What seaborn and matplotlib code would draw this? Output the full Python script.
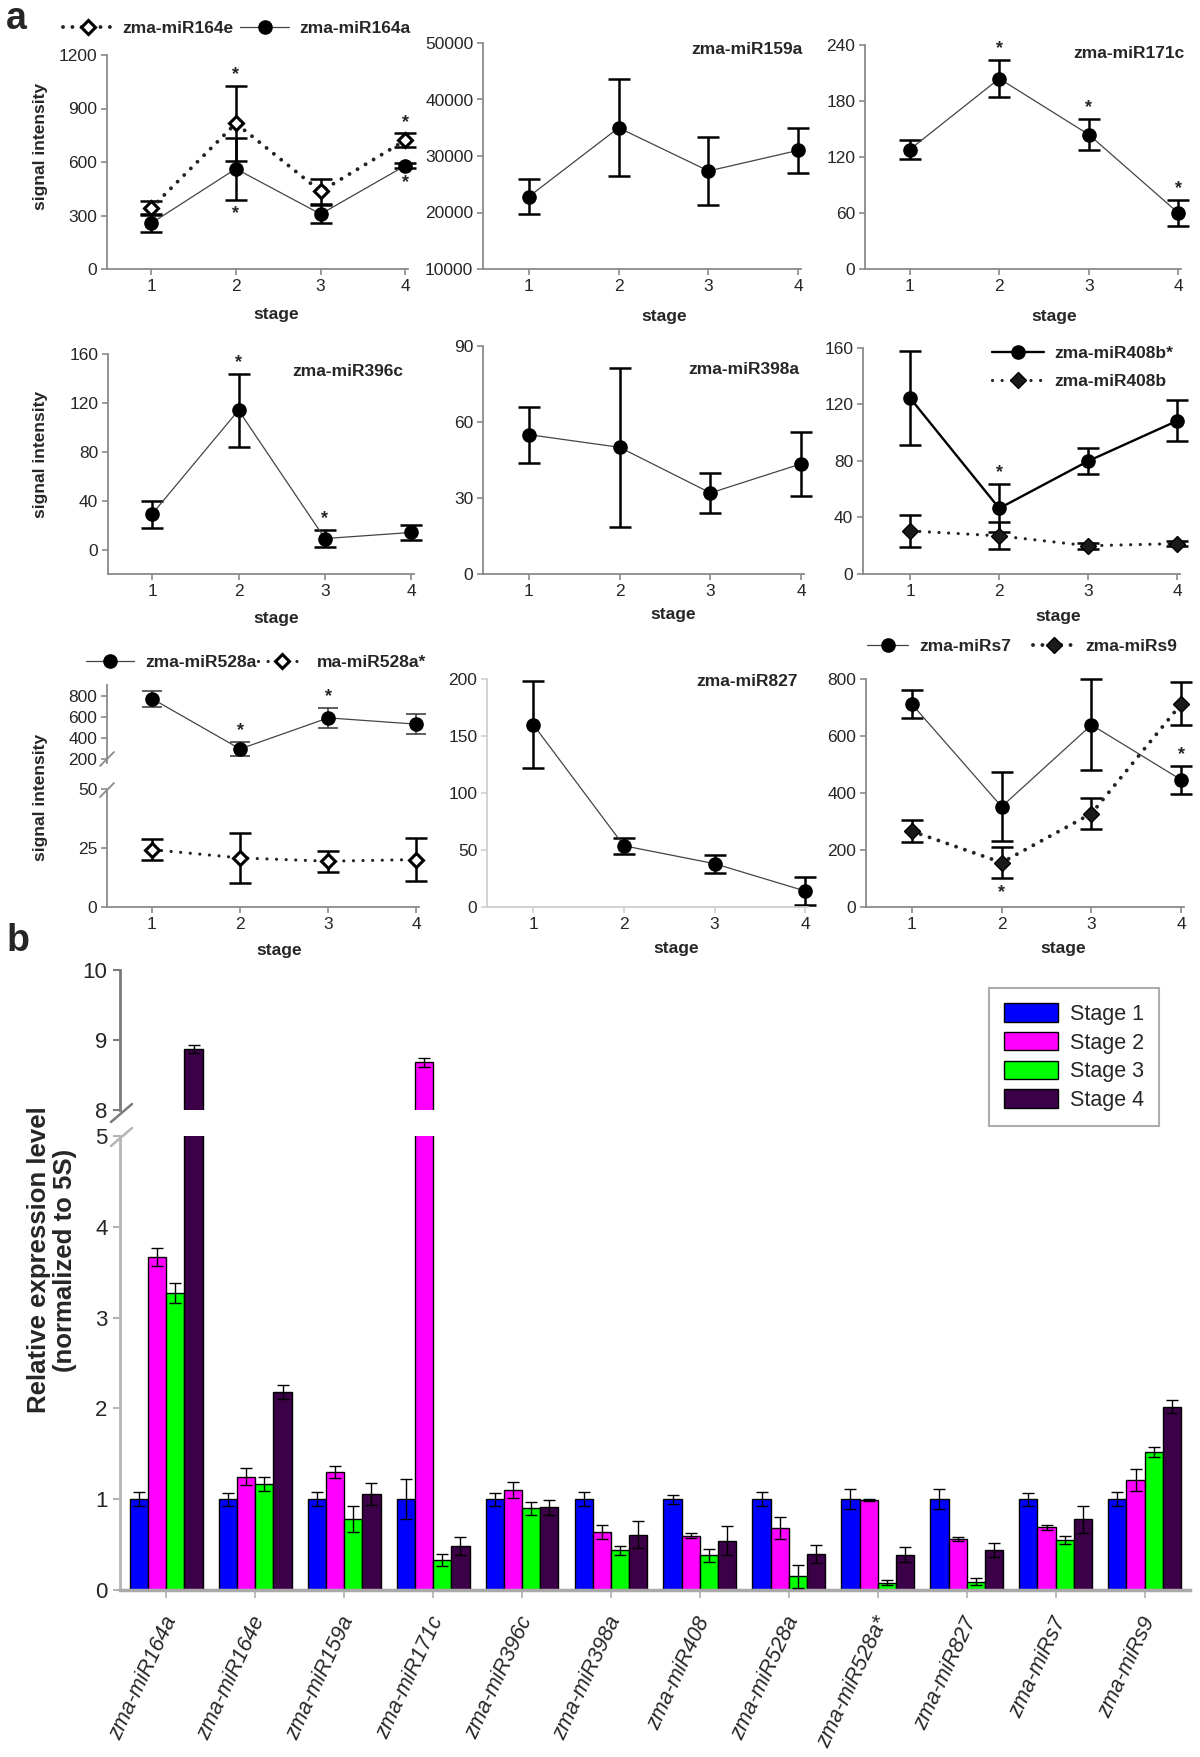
import numpy as np
import pandas as pd
import seaborn as sns
import matplotlib.pyplot as plt
import matplotlib.transforms as mtransforms
from matplotlib.lines import Line2D

W, H = 1200, 1757
stages = [1, 2, 3, 4]

# panel a: microarray signal intensity (mean and error per stage)
mir164e = [341, 817, 435, 722]
mir164e_err = [40, 210, 70, 38]
mir164a = [256, 562, 308, 580]
mir164a_err = [50, 175, 50, 15]
mir159a = [22800, 35000, 27350, 31000]
mir159a_err = [3100, 8550, 6050, 4000]
mir171c = [128, 204, 144, 60]
mir171c_err = [10, 20, 17, 14]
mir396c = [29, 114, 9, 14]
mir396c_err = [11, 30, 7, 6]
mir398a = [55, 50, 32, 43.5]
mir398a_err = [11, 31.5, 7.8, 12.7]
mir408b_star = [124.5, 46.5, 80, 108.5]
mir408b_star_err = [33.5, 17, 9, 14.5]
mir408b = [30.5, 27, 20, 21.5]
mir408b_err = [11.5, 9.5, 2, 2]
mir528a = [775, 294, 591, 531]
mir528a_err = [76, 66, 92, 98]
mir528a_star = [24.3, 20.8, 19.4, 20.1]
mir528a_star_err = [4.4, 10.7, 4.4, 9]
mir827 = [160, 53.7, 38, 14]
mir827_err = [38.5, 7, 8, 12.3]
mirs7 = [712, 352, 639, 446]
mirs7_err = [50, 122, 160, 48]
mirs9 = [266, 156, 328, 713]
mirs9_err = [38, 55, 53, 76]

# panel b: qRT-PCR relative expression
mirnas = ["zma-miR164a", "zma-miR164e", "zma-miR159a", "zma-miR171c", "zma-miR396c",
          "zma-miR398a", "zma-miR408", "zma-miR528a", "zma-miR528a*", "zma-miR827",
          "zma-miRs7", "zma-miRs9"]
stage_names = ["Stage 1", "Stage 2", "Stage 3", "Stage 4"]
stage1 = [1.00, 1.00, 1.00, 1.00, 1.00, 1.00, 1.00, 1.00, 1.00, 1.00, 1.00, 1.00]
stage1_err = [0.08, 0.07, 0.08, 0.22, 0.07, 0.08, 0.05, 0.08, 0.11, 0.11, 0.07, 0.08]
stage2 = [3.67, 1.25, 1.30, 8.68, 1.10, 0.64, 0.60, 0.68, 0.99, 0.56, 0.69, 1.21]
stage2_err = [0.10, 0.09, 0.07, 0.06, 0.09, 0.08, 0.03, 0.12, 0.01, 0.02, 0.03, 0.12]
stage3 = [3.27, 1.17, 0.78, 0.33, 0.90, 0.44, 0.38, 0.15, 0.08, 0.09, 0.55, 1.52]
stage3_err = [0.11, 0.08, 0.14, 0.07, 0.07, 0.05, 0.07, 0.13, 0.03, 0.04, 0.04, 0.06]
stage4 = [8.87, 2.18, 1.06, 0.48, 0.91, 0.61, 0.54, 0.40, 0.39, 0.44, 0.78, 2.02]
stage4_err = [0.06, 0.08, 0.12, 0.10, 0.08, 0.15, 0.16, 0.10, 0.08, 0.08, 0.15, 0.07]
bar_colors = ["#0000ff", "#ff00ff", "#00ff00", "#3c0048"]

sns.set_theme(style="white")
plt.rcParams["font.family"] = ["Liberation Sans", "DejaVu Sans"]

fig = plt.figure(figsize=(W / 100, H / 100), dpi=100)
GRAY = "#8a8a8a"

STYLES = {
    "circle": dict(marker="o", markersize=9.5, markerfacecolor="black",
                   markeredgecolor="black", markeredgewidth=1),
    "open": dict(marker="D", markersize=7.5, markerfacecolor="white",
                 markeredgecolor="black", markeredgewidth=2.2),
    "filled": dict(marker="D", markersize=8.5, markerfacecolor="#1a1a1a",
                   markeredgecolor="black", markeredgewidth=1),
}
DOTTED = dict(linestyle=(0, (0.01, 2.4)), dash_capstyle="round", linewidth=2.8, color="#222222")
DOTTED_S = dict(linestyle=(0, (0.01, 3.0)), dash_capstyle="round", linewidth=2.3, color="#222222")
SOLID = dict(linestyle="-", linewidth=0.9, color="#444444")
SOLID_B = dict(linestyle="-", linewidth=1.7, color="black")


def new_ax(x0, y0, x1, y1):
    ax = fig.add_axes([x0 / W, 1 - y1 / H, (x1 - x0) / W, (y1 - y0) / H])
    ax.patch.set_alpha(0)
    return ax


def ftext(x, y, s, **kw):
    fig.text(x / W, 1 - y / H, s, **kw)


def fline(x0, y0, x1, y1, **kw):
    fig.add_artist(Line2D([x0 / W, x1 / W], [1 - y0 / H, 1 - y1 / H],
                          transform=fig.transFigure, **kw))


def style_stage_ax(ax, xleft, ylim, yticks, color=GRAY, bottom=True):
    ax.set_xlim(xleft, 4.03)
    ax.set_ylim(ylim)
    ax.set_xticks(stages if bottom else [])
    ax.set_yticks(yticks)
    ax.set_xlabel("")
    ax.set_ylabel("")
    sns.despine(ax=ax, bottom=not bottom)
    for side in ("left", "bottom"):
        ax.spines[side].set_color(color)
        ax.spines[side].set_linewidth(1.3)
    ax.tick_params(direction="out", length=4, width=1.2, color=color,
                   labelsize=12.5, pad=3, left=True, bottom=bottom)


def series(ax, y, err, mark, line, elw=1.8, ecol="black", cap=8):
    df = pd.DataFrame({"stage": stages, "signal": y})
    sns.lineplot(data=df, x="stage", y="signal", ax=ax, zorder=3, clip_on=False,
                 **line, **STYLES[mark])
    ax.errorbar(stages, y, yerr=err, fmt="none", ecolor=ecol, elinewidth=elw,
                capsize=cap, capthick=elw, zorder=2, clip_on=False)


def stars(ax, y, err, up=(), down=(), off=2):
    for s in up:
        i = stages.index(s)
        ax.annotate("*", xy=(s, y[i] + err[i]), xytext=(0, off), textcoords="offset points",
                    ha="center", va="bottom", fontsize=13, fontweight="bold",
                    annotation_clip=False)
    for s in down:
        i = stages.index(s)
        ax.annotate("*", xy=(s, y[i] - err[i]), xytext=(0, -off - 2), textcoords="offset points",
                    ha="center", va="top", fontsize=13, fontweight="bold",
                    annotation_clip=False)


def handle(mark, line):
    return Line2D([], [], **line, **STYLES[mark])


def top_legend(handles, labels, cx, cy, colspace=0.4, hlen=2.8):
    fig.legend(handles, labels, loc="center", bbox_to_anchor=(cx / W, 1 - cy / H), ncol=2,
               frameon=False, prop=dict(weight="bold", size=12.5), handlelength=hlen,
               handletextpad=0.6, columnspacing=colspace, borderpad=0)


label_kw = dict(fontsize=12.5, fontweight="bold", ha="center", va="center")

# ---------- row 1 ----------
ax = new_ax(107, 55, 408, 269)
series(ax, mir164e, mir164e_err, "open", DOTTED)
series(ax, mir164a, mir164a_err, "circle", SOLID)
stars(ax, mir164e, mir164e_err, up=[2, 4])
stars(ax, mir164a, mir164a_err, down=[2, 4])
style_stage_ax(ax, 0.48, (0, 1200), [0, 300, 600, 900, 1200])
top_legend([handle("open", DOTTED), handle("circle", SOLID)],
           ["zma-miR164e", "zma-miR164a"], 237, 28)

ax = new_ax(483, 43, 801, 269)
series(ax, mir159a, mir159a_err, "circle", SOLID)
style_stage_ax(ax, 0.49, (10000, 50000), [10000, 20000, 30000, 40000, 50000])
ftext(802, 50, "zma-miR159a", ha="right", va="center", fontsize=12.5, fontweight="bold")

ax = new_ax(865, 45, 1181, 269)
series(ax, mir171c, mir171c_err, "circle", SOLID)
stars(ax, mir171c, mir171c_err, up=[2, 3, 4])
style_stage_ax(ax, 0.5, (0, 240), [0, 60, 120, 180, 240])
ftext(1185, 54, "zma-miR171c", ha="right", va="center", fontsize=12.5, fontweight="bold")

# ---------- row 2 ----------
ax = new_ax(108, 354, 414, 574)
series(ax, mir396c, mir396c_err, "circle", SOLID)
stars(ax, mir396c, mir396c_err, up=[2, 3])
style_stage_ax(ax, 0.49, (-20, 160), [0, 40, 80, 120, 160])
ftext(403, 371, "zma-miR396c", ha="right", va="center", fontsize=12.5, fontweight="bold")

ax = new_ax(483, 346, 804, 574)
series(ax, mir398a, mir398a_err, "circle", SOLID)
style_stage_ax(ax, 0.495, (0, 90), [0, 30, 60, 90])
ftext(799, 370, "zma-miR398a", ha="right", va="center", fontsize=12.5, fontweight="bold")

ax = new_ax(863, 348, 1180, 574)
series(ax, mir408b_star, mir408b_star_err, "circle", SOLID_B)
series(ax, mir408b, mir408b_err, "filled", DOTTED_S)
stars(ax, mir408b_star, mir408b_star_err, up=[2])
style_stage_ax(ax, 0.47, (0, 160), [0, 40, 80, 120, 160])
fig.legend([handle("circle", SOLID_B), handle("filled", DOTTED_S)],
           ["zma-miR408b*", "zma-miR408b"], loc="upper right",
           bbox_to_anchor=(1182 / W, 1 - 337 / H), frameon=False,
           prop=dict(weight="bold", size=12.5), handlelength=3.0, handletextpad=0.6,
           labelspacing=0.75, borderpad=0)

# ---------- row 3 ----------
ax_up = new_ax(107, 685, 419, 763)
series(ax_up, mir528a, mir528a_err, "circle", SOLID, elw=1.1, ecol="#333333", cap=7)
stars(ax_up, mir528a, mir528a_err, up=[2, 3])
style_stage_ax(ax_up, 0.49, (160, 905), [200, 400, 600, 800], bottom=False)
ax = new_ax(107, 789, 419, 907)
series(ax, mir528a_star, mir528a_star_err, "open", DOTTED_S)
style_stage_ax(ax, 0.49, (0, 50), [0, 25, 50])
fline(100, 766, 114, 752, color=GRAY, lw=1.3)
fline(100, 797, 114, 783, color=GRAY, lw=1.3)
top_legend([handle("circle", SOLID), handle("open", DOTTED_S)],
           ["zma-miR528a", "ma-miR528a*"], 256, 662, colspace=0.1)

ax = new_ax(487, 679, 808, 907)
series(ax, mir827, mir827_err, "circle", SOLID)
style_stage_ax(ax, 0.49, (0, 200), [0, 50, 100, 150, 200], color="#cfcfcf")
ftext(798, 681, "zma-miR827", ha="right", va="center", fontsize=12.5, fontweight="bold")

ax = new_ax(866, 679, 1184, 907)
series(ax, mirs7, mirs7_err, "circle", SOLID)
series(ax, mirs9, mirs9_err, "filled", DOTTED)
stars(ax, mirs9, mirs9_err, down=[2])
stars(ax, mirs7, mirs7_err, up=[4])
style_stage_ax(ax, 0.49, (0, 800), [0, 200, 400, 600, 800])
top_legend([handle("circle", SOLID), handle("filled", DOTTED)],
           ["zma-miRs7", "zma-miRs9"], 1022, 646, colspace=1.3, hlen=2.4)

for x, y in [(276, 315), (664, 316), (1054, 316), (276, 618), (673, 615), (1058, 616),
             (279, 950), (676, 948), (1063, 948)]:
    ftext(x, y, "stage", **label_kw)
for y in (146, 454, 797):
    ftext(41, y, "signal intensity", rotation=90, **label_kw)

ftext(16, 19, "a", fontsize=27, fontweight="bold", ha="center", va="center")
ftext(18, 941, "b", fontsize=27, fontweight="bold", ha="center", va="center")

# ---------- panel b ----------
bar_df = pd.DataFrame({
    "miRNA": mirnas * 4,
    "stage": np.repeat(stage_names, len(mirnas)),
    "level": stage1 + stage2 + stage3 + stage4,
})
means = [stage1, stage2, stage3, stage4]
errs = [stage1_err, stage2_err, stage3_err, stage4_err]

ax_top = new_ax(120, 970, 1190, 1110)
ax_bot = new_ax(120, 1136, 1190, 1590)
for ax in (ax_top, ax_bot):
    sns.barplot(data=bar_df, x="miRNA", y="level", hue="stage", palette=bar_colors,
                width=0.82, saturation=1, edgecolor="black", linewidth=1,
                errorbar=None, ax=ax)
    for cont, vals, e in zip(ax.containers, means, errs):
        xs = [p.get_x() + p.get_width() / 2 for p in cont]
        ax.errorbar(xs, vals, yerr=e, fmt="none", ecolor="black", elinewidth=1,
                    capsize=4, capthick=1, zorder=3)
    ax.set_xlim(-0.52, 11.51)
    ax.set_xlabel("")
    ax.set_ylabel("")

leg = ax_bot.get_legend()
bar_handles = leg.legend_handles
bar_labels = [t.get_text() for t in leg.get_texts()]
ax_top.get_legend().remove()
leg.remove()

ax_top.set_ylim(8, 10)
ax_top.set_yticks([8, 9, 10])
ax_top.set_xticks([])
sns.despine(ax=ax_top, bottom=True)
ax_top.spines["left"].set_color("#7a7a7a")
ax_top.spines["left"].set_linewidth(2)
ax_top.tick_params(axis="y", direction="out", length=5, width=1.5, color="#7a7a7a",
                   labelsize=16, left=True, pad=4)

ax_bot.set_ylim(0, 5)
ax_bot.set_yticks([0, 1, 2, 3, 4, 5])
sns.despine(ax=ax_bot)
ax_bot.spines["left"].set_color("#b5b5b5")
ax_bot.spines["left"].set_linewidth(2)
ax_bot.spines["bottom"].set_color("#aaaaaa")
ax_bot.spines["bottom"].set_linewidth(2.5)
ax_bot.tick_params(axis="y", direction="out", length=5, width=1.5, color="#b5b5b5",
                   labelsize=16, left=True, pad=4)
ax_bot.tick_params(axis="x", direction="out", length=6, width=1.2, color="#b0b0b0",
                   bottom=True, pad=14)
ax_bot.set_xticks(range(len(mirnas)))
ax_bot.set_xticklabels(mirnas, rotation=65, ha="right", va="center",
                       rotation_mode="anchor", fontstyle="italic", fontsize=15.5)
shift = mtransforms.ScaledTranslation(5 / 100, 0, fig.dpi_scale_trans)
for lab in ax_bot.get_xticklabels():
    lab.set_transform(lab.get_transform() + shift)

fline(111, 1122, 132, 1104, color="#7a7a7a", lw=1.8)
fline(111, 1146, 132, 1128, color="#b5b5b5", lw=1.8)

bl = fig.legend(bar_handles, bar_labels, loc="upper left",
                bbox_to_anchor=(989 / W, 1 - 988 / H), frameon=True, fancybox=False,
                edgecolor="#999999", fontsize=15.5, handlelength=2.5, handleheight=0.95,
                labelspacing=0.33, borderpad=0.7, handletextpad=0.55, borderaxespad=0)
bl.get_frame().set_linewidth(1.5)

ftext(52, 1260, "Relative expression level\n(normalized to 5S)", rotation=90,
      ha="center", va="center", fontsize=18.5, fontweight="bold", linespacing=1.15)

fig.savefig("out.png", dpi=100)
